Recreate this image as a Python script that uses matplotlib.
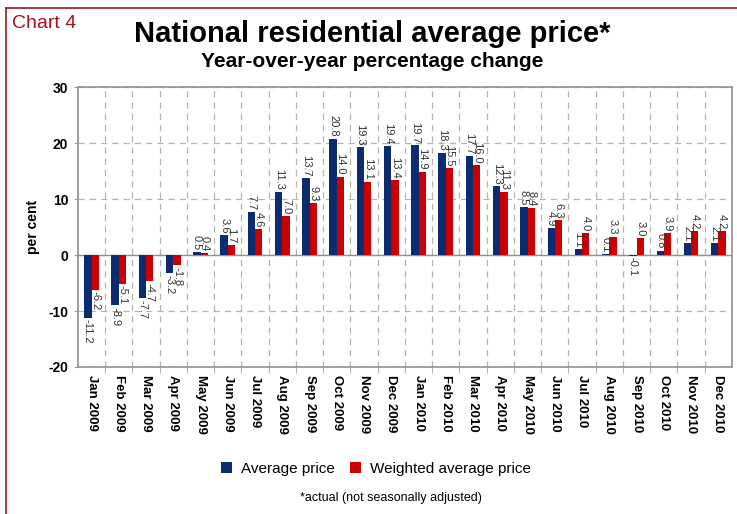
import numpy as np
import matplotlib.pyplot as plt
from matplotlib.lines import Line2D

plt.rcParams['font.family'] = ['Liberation Sans', 'DejaVu Sans']

# Months on the x axis
months = ["Jan 2009", "Feb 2009", "Mar 2009", "Apr 2009", "May 2009", "Jun 2009",
          "Jul 2009", "Aug 2009", "Sep 2009", "Oct 2009", "Nov 2009", "Dec 2009",
          "Jan 2010", "Feb 2010", "Mar 2010", "Apr 2010", "May 2010", "Jun 2010",
          "Jul 2010", "Aug 2010", "Sep 2010", "Oct 2010", "Nov 2010", "Dec 2010"]

# Year-over-year change, per cent
avg_price = [-11.2, -8.9, -7.7, -3.2, 0.5, 3.6, 7.7, 11.3, 13.7, 20.8, 19.3, 19.4,
             19.7, 18.3, 17.7, 12.3, 8.5, 4.9, 1.1, 0.1, -0.1, 0.8, 2.1, 2.1]
wavg_price = [-6.2, -5.1, -4.7, -1.8, 0.4, 1.7, 4.6, 7.0, 9.3, 14.0, 13.1, 13.4,
              14.9, 15.5, 16.0, 11.3, 8.4, 6.3, 4.0, 3.3, 3.0, 3.9, 4.2, 4.2]

blue = '#0B2C6E'
red = '#CC0000'
grey = '#A0A0A0'

fig = plt.figure(figsize=(7.37, 5.14), dpi=100)
ax = fig.add_axes([0.1058, 0.286, 0.8874, 0.5447])

x = np.arange(len(months))
w = 0.27
b1 = ax.bar(x - w/2, avg_price, width=w, color=blue, label="Average price", zorder=3)
b2 = ax.bar(x + w/2, wavg_price, width=w, color=red, label="Weighted average price", zorder=3)

# data labels, rotated like the original
for bars, vals in [(b1, avg_price), (b2, wavg_price)]:
    for r, v in zip(bars, vals):
        xc = r.get_x() + r.get_width()/2
        if v >= 0:
            ax.text(xc, v + 0.3, f"{v:.1f}", rotation=-90, ha='center', va='bottom',
                    fontsize=8, color='#333333', zorder=4)
        else:
            ax.text(xc, v - 0.3, f"{v:.1f}", rotation=-90, ha='center', va='top',
                    fontsize=8, color='#333333', zorder=4)

ax.set_xlim(-0.5, len(months) - 0.5)
ax.set_ylim(-20, 30)
ax.set_yticks([-20, -10, 0, 10, 20, 30])
ax.set_yticklabels(["-20", "-10", "0", "10", "20", "30"], fontweight='bold', fontsize=10)
ax.set_xticks(x)
ax.set_xticklabels(months, rotation=-90, fontweight='bold', fontsize=9.5)
ax.set_xticks(np.arange(0.5, len(months) - 0.5), minor=True)
ax.tick_params(axis='x', which='major', length=0, pad=6)
ax.tick_params(axis='x', which='minor', length=4, color=grey)
ax.tick_params(axis='y', length=3, color=grey, pad=4)

ax.grid(which='minor', axis='x', linestyle=(0, (5, 4)), color='#B4B4B4', linewidth=0.9)
ax.grid(which='major', axis='y', linestyle=(0, (5, 4)), color='#B4B4B4', linewidth=0.9)
ax.axhline(0, color='#909090', linewidth=1, zorder=2)
ax.set_axisbelow(True)
for s in ax.spines.values():
    s.set_color('#909090')
    s.set_linewidth(1.2)

ax.set_ylabel("per cent", fontweight='bold', fontsize=10, labelpad=6)

fig.text(0.505, 0.934, "National residential average price*", ha='center', va='center',
         fontsize=21, fontweight='bold')
fig.text(0.505, 0.881, "Year-over-year percentage change", ha='center', va='center',
         fontsize=15, fontweight='bold')
fig.text(0.016, 0.955, "Chart 4", ha='left', va='center', fontsize=14, color='#A0141E')

fig.legend(handles=[b1, b2], loc='center', bbox_to_anchor=(0.51, 0.088), ncol=2,
           frameon=False, fontsize=11, handlelength=0.7, handleheight=0.7,
           handletextpad=0.6, columnspacing=1.0)
fig.text(0.53, 0.031, "*actual (not seasonally adjusted)", ha='center', va='center',
         fontsize=9)

# red frame around the chart
fig.add_artist(Line2D([0.008, 0.008], [0.0, 0.985], color='#A0141E', linewidth=1.2,
                      transform=fig.transFigure))
fig.add_artist(Line2D([0.008, 1.0], [0.985, 0.985], color='#A0141E', linewidth=1.2,
                      transform=fig.transFigure))

fig.savefig("out.png", dpi=100)
